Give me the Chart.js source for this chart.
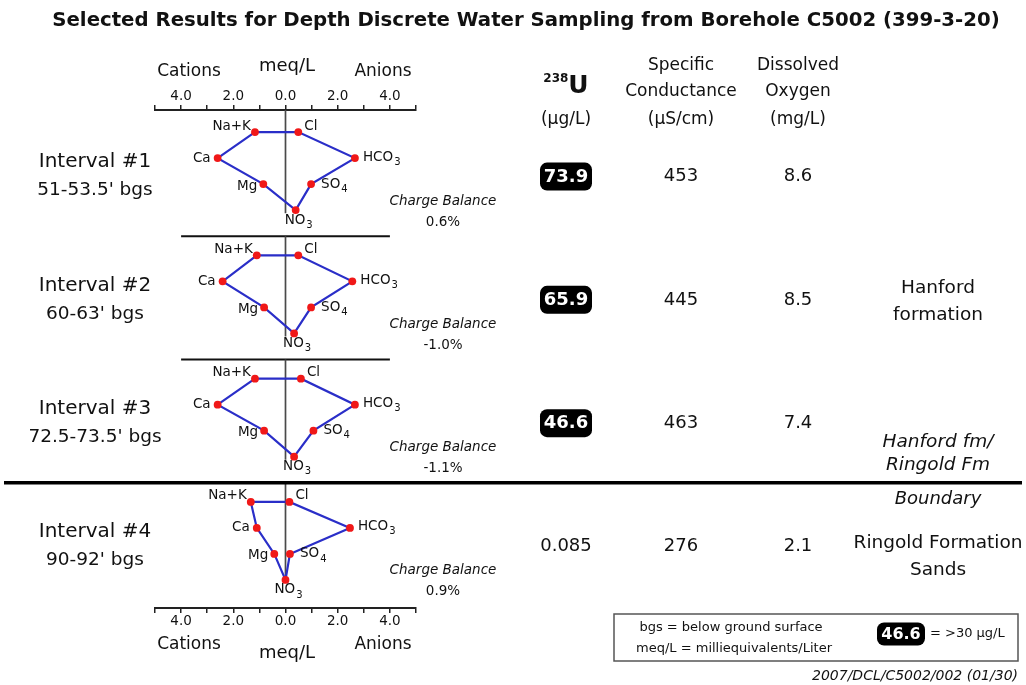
<!DOCTYPE html>
<html>
<head>
<meta charset="utf-8">
<title>Depth Discrete Water Sampling – Borehole C5002</title>
<script src="https://cdn.jsdelivr.net/npm/chart.js@4.4.1/dist/chart.umd.min.js"></script>
<style>
  html, body { margin: 0; padding: 0; background: #fff; }
  canvas { display: block; }
</style>
</head>
<body>
<canvas id="c" width="1026" height="685"></canvas>
<script>
// ---- Sampling intervals ----
const intervalNames = ['Interval #1', 'Interval #2', 'Interval #3', 'Interval #4'];
const depthRanges = ["51-53.5' bgs", "60-63' bgs", "72.5-73.5' bgs", "90-92' bgs"];

// ---- Stiff diagram concentrations (meq/L) ----
const naK  = [1.17, 1.10, 1.17, 1.33];
const ca   = [2.60, 2.41, 2.60, 1.10];
const mg   = [0.85, 0.82, 0.82, 0.43];
const cl   = [0.49, 0.49, 0.59, 0.15];
const hco3 = [2.66, 2.56, 2.66, 2.47];
const so4  = [0.98, 0.98, 1.07, 0.17];
const no3  = [0.39, 0.33, 0.33, 0.00];
const chargeBalance = ['0.6%', '-1.0%', '-1.1%', '0.9%'];

// ---- Field / lab results ----
const uranium = [73.9, 65.9, 46.6, 0.085];      // µg/L
const conductance = [453, 445, 463, 276];       // µS/cm
const oxygen = ['8.6', '8.5', '7.4', '2.1'];    // mg/L
const uraniumLimit = 30;                        // values above this are boxed

// ---- Axis tick labels (meq/L) ----
const meqTickValues = [-4, -2, 0, 2, 4];

// ---- Geologic units beside each interval ----
const formations = [[], ['Hanford', 'formation'], ['Hanford fm/', 'Ringold Fm'], ['Ringold Formation', 'Sands']];
const formationItalic = [false, false, true, false];
const boundaryLabel = 'Boundary';

// Ion labels in polygon order: Na+K, Cl, HCO3, SO4, NO3, Mg, Ca
const ionLabels = [['Na+K', ''], ['Cl', ''], ['HCO', '3'], ['SO', '4'], ['NO', '3'], ['Mg', ''], ['Ca', '']];

const FONT = "'DejaVu Sans', 'Liberation Sans', sans-serif";
const INTERVAL_STEP = 4.74;   // vertical distance between diagrams, in row units
const Y_MIN = -0.85, Y_MAX = 18.3;

function stiffPoints(i) {
  const b = i * INTERVAL_STEP;
  return [
    { x: -naK[i], y: b },
    { x: cl[i],   y: b },
    { x: hco3[i], y: b + 1 },
    { x: so4[i],  y: b + 2 },
    { x: no3[i],  y: b + 3 },
    { x: -mg[i],  y: b + 2 },
    { x: -ca[i],  y: b + 1 },
    { x: -naK[i], y: b }
  ];
}

const datasets = [];
intervalNames.forEach((name, i) => {
  datasets.push({
    label: name,
    data: stiffPoints(i),
    showLine: true,
    borderColor: '#2a2ec8',
    borderWidth: 2.2,
    pointRadius: [3.9, 3.9, 3.9, 3.9, 3.9, 3.9, 3.9, 0],
    pointBackgroundColor: '#f01818',
    pointBorderWidth: 0,
    tension: 0,
    order: 0,
    stiff: true
  });
});
// zero line through each diagram
intervalNames.forEach((name, i) => {
  const b = i * INTERVAL_STEP;
  const top = i === 0 ? Y_MIN : b - 0.74;
  const bottom = i === 3 ? b + 3.0 : b + 3.12;
  datasets.push({
    data: [{ x: 0, y: top }, { x: 0, y: bottom }],
    showLine: true, borderColor: '#4a4a4a', borderWidth: 1.7, pointRadius: 0, order: 2
  });
});
// separators between diagrams 1-2 and 2-3
[1, 2].forEach(i => {
  const s = i * INTERVAL_STEP - 0.74;
  datasets.push({
    data: [{ x: -4, y: s }, { x: 4, y: s }],
    showLine: true, borderColor: '#111', borderWidth: 2, pointRadius: 0, order: 2
  });
});

function tickLabel(v) {
  return meqTickValues.includes(v) ? Math.abs(v).toFixed(1) : '';
}
function integerTicks(s) {
  s.ticks = [];
  for (let v = -5; v <= 5; v++) s.ticks.push({ value: v });
}
const axisCommon = {
  type: 'linear', min: -5, max: 5,
  afterBuildTicks: integerTicks,
  ticks: { autoSkip: false, maxRotation: 0, minRotation: 0, padding: 0,
           font: { family: FONT, size: 13.5 }, color: '#111', callback: tickLabel },
  grid: { drawOnChartArea: false, drawTicks: true, tickLength: 5, color: '#222', lineWidth: 1.5 },
  border: { display: true, color: '#222', width: 2 }
};

function txt(ctx, s, x, y, o = {}) {
  ctx.font = `${o.style || 'normal'} ${o.weight || 'normal'} ${o.size || 16}px ${FONT}`;
  ctx.fillStyle = o.color || '#111';
  ctx.textAlign = o.align || 'center';
  ctx.textBaseline = o.baseline || 'middle';
  ctx.fillText(s, x, y);
}

function chem(ctx, base, sub, x, y, align) {
  const bs = 13.5, ss = 10;
  ctx.font = `${bs}px ${FONT}`;
  const wb = ctx.measureText(base).width;
  ctx.font = `${ss}px ${FONT}`;
  const ws = sub ? ctx.measureText(sub).width + 1 : 0;
  const w = wb + ws;
  let x0 = x;
  if (align === 'right') x0 = x - w;
  else if (align === 'center') x0 = x - w / 2;
  txt(ctx, base, x0, y, { size: bs, align: 'left' });
  if (sub) txt(ctx, sub, x0 + wb + 1, y + 5, { size: ss, align: 'left' });
}

function blackBox(ctx, s, cx, cy, w, h, size) {
  ctx.fillStyle = '#000';
  ctx.beginPath();
  ctx.roundRect(cx - w / 2, cy - h / 2, w, h, 7);
  ctx.fill();
  txt(ctx, s, cx, cy + 0.5, { size, weight: 'bold', color: '#fff' });
}

const annotations = {
  id: 'annotations',
  afterDraw(chart) {
    const ctx = chart.ctx;
    const ys = chart.scales.y;
    ctx.save();

    // title
    const title = 'Selected Results for Depth Discrete Water Sampling from Borehole C5002 (399-3-20)';
    ctx.font = `bold 18px ${FONT}`;
    const tSize = 18 * 948 / ctx.measureText(title).width;
    txt(ctx, title, 526, 21, { size: tSize, weight: 'bold' });

    // axis captions (top and bottom)
    txt(ctx, 'Cations', 189, 72, { size: 17 });
    txt(ctx, 'meq/L', 287, 66, { size: 18 });
    txt(ctx, 'Anions', 383, 72, { size: 17 });
    txt(ctx, 'Cations', 189, 645, { size: 17 });
    txt(ctx, 'meq/L', 287, 653, { size: 18 });
    txt(ctx, 'Anions', 383, 645, { size: 17 });

    // column headers
    const ucx = 566;
    ctx.font = `bold 12px ${FONT}`;
    const w238 = ctx.measureText('238').width;
    ctx.font = `bold 25px ${FONT}`;
    const wU = ctx.measureText('U').width;
    const ux0 = ucx - (w238 + wU) / 2;
    txt(ctx, '238', ux0, 82, { size: 12, weight: 'bold', align: 'left', baseline: 'alphabetic' });
    txt(ctx, 'U', ux0 + w238, 93, { size: 25, weight: 'bold', align: 'left', baseline: 'alphabetic' });
    txt(ctx, '(µg/L)', ucx, 120, { size: 17 });
    txt(ctx, 'Specific', 681, 66, { size: 17 });
    txt(ctx, 'Conductance', 681, 92, { size: 17 });
    txt(ctx, '(µS/cm)', 681, 120, { size: 17 });
    txt(ctx, 'Dissolved', 798, 66, { size: 17 });
    txt(ctx, 'Oxygen', 798, 92, { size: 17 });
    txt(ctx, '(mg/L)', 798, 120, { size: 17 });

    // thick boundary line between Hanford and Ringold samples
    const yb = ys.getPixelForValue(3 * INTERVAL_STEP - 0.74);
    ctx.strokeStyle = '#000';
    ctx.lineWidth = 3.5;
    ctx.beginPath();
    ctx.moveTo(4, yb);
    ctx.lineTo(1022, yb);
    ctx.stroke();
    txt(ctx, boundaryLabel, 938, yb + 17, { size: 18, style: 'italic' });

    const formationMid = [0, 46.5, 75, 55];
    intervalNames.forEach((name, i) => {
      const r0 = ys.getPixelForValue(i * INTERVAL_STEP);
      txt(ctx, name, 95, r0 + 30, { size: 20 });
      txt(ctx, depthRanges[i], 95, r0 + 58.5, { size: 18.5 });

      const vy = r0 + 44.5;
      const uText = String(uranium[i]);
      if (uranium[i] > uraniumLimit) blackBox(ctx, uText, ucx, vy, 52, 28, 18);
      else txt(ctx, uText, ucx, vy, { size: 18 });
      txt(ctx, String(conductance[i]), 681, vy, { size: 18 });
      txt(ctx, oxygen[i], 798, vy, { size: 18 });

      txt(ctx, 'Charge Balance', 443, r0 + 69, { size: 13.5, style: 'italic' });
      txt(ctx, chargeBalance[i], 443, r0 + 90, { size: 13.5 });

      const f = formations[i];
      if (f.length) {
        const m = r0 + formationMid[i];
        const st = formationItalic[i] ? 'italic' : 'normal';
        const gap = formationItalic[i] ? 11.5 : 13.5;
        txt(ctx, f[0], 938, m - gap, { size: 18.5, style: st });
        txt(ctx, f[1], 938, m + gap, { size: 18.5, style: st });
      }
    });

    // ion labels beside each plotted point
    chart.data.datasets.forEach((ds, di) => {
      if (!ds.stiff) return;
      const pts = chart.getDatasetMeta(di).data;
      const P = k => pts[k];
      chem(ctx, ionLabels[0][0], '', P(0).x - 4, P(0).y - 6, 'right');
      chem(ctx, ionLabels[1][0], '', P(1).x + 6, P(1).y - 6, 'left');
      chem(ctx, ionLabels[2][0], ionLabels[2][1], P(2).x + 8, P(2).y - 1, 'left');
      chem(ctx, ionLabels[3][0], ionLabels[3][1], P(3).x + 10, P(3).y, 'left');
      chem(ctx, ionLabels[4][0], ionLabels[4][1], P(4).x + 3, P(4).y + 10, 'center');
      chem(ctx, ionLabels[5][0], '', P(5).x - 6, P(5).y + 2, 'right');
      chem(ctx, ionLabels[6][0], '', P(6).x - 7, P(6).y, 'right');
    });

    // key box
    ctx.strokeStyle = '#555';
    ctx.lineWidth = 1.5;
    ctx.strokeRect(614, 614, 404, 47);
    txt(ctx, 'bgs = below ground surface', 731, 628, { size: 13 });
    txt(ctx, 'meq/L = milliequivalents/Liter', 734, 649, { size: 13 });
    blackBox(ctx, String(uranium[2]), 901, 634, 48, 23, 16);
    txt(ctx, '= >' + uraniumLimit + ' µg/L', 930, 634, { size: 13, align: 'left' });

    txt(ctx, '2007/DCL/C5002/002 (01/30)', 1018, 676, { size: 14, style: 'italic', align: 'right' });

    ctx.restore();
  }
};

new Chart(document.getElementById('c'), {
  type: 'scatter',
  data: { datasets },
  options: {
    responsive: false,
    animation: false,
    devicePixelRatio: 1,
    events: [],
    layout: { padding: { left: 155, right: 610, top: 0, bottom: 0 } },
    plugins: { legend: { display: false }, tooltip: { enabled: false }, title: { display: false } },
    scales: {
      xTop: Object.assign({}, axisCommon, { position: 'top', afterFit(s) { s.height = 110; } }),
      x: Object.assign({}, axisCommon, { position: 'bottom', afterFit(s) { s.height = 77; } }),
      y: { type: 'linear', display: false, reverse: true, min: Y_MIN, max: Y_MAX }
    }
  },
  plugins: [annotations]
});
</script>
</body>
</html>
